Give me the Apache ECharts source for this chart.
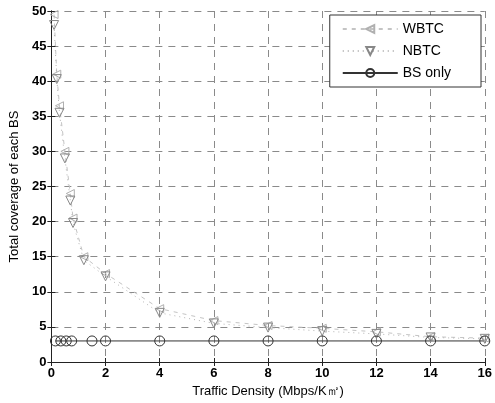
<!DOCTYPE html>
<html>
<head>
<meta charset="utf-8">
<script src="https://cdn.jsdelivr.net/npm/echarts@6/dist/echarts.min.js"></script>
<style>
  html, body { margin: 0; padding: 0; background: #fff; }
  #main { width: 495px; height: 403px; }
</style>
</head>
<body>
<div id="main"></div>
<script type="text/javascript">
    // traffic density points (Mbps/K m^2)
    var xCoverage = [0.1, 0.2, 0.3, 0.5, 0.7, 0.8, 1.2, 2, 4, 6, 8, 10, 12, 14, 16];
    var wbtc = [49.5, 41, 36.5, 30, 24, 20.5, 15, 12.6, 7.6, 5.9, 5.2, 4.8, 4.3, 3.6, 3.4];
    var nbtc = [48, 40.3, 35.5, 29, 23, 19.8, 14.5, 12.2, 7, 5.5, 4.9, 4.4, 4, 3.5, 3.3];
    var xBs = [0.15, 0.35, 0.55, 0.75, 1.5, 2, 4, 6, 8, 10, 12, 14, 16];
    var bsOnly = [3, 3, 3, 3, 3, 3, 3, 3, 3, 3, 3, 3, 3];

    function pairs(xs, ys) {
        var out = [];
        for (var i = 0; i < xs.length; i++) out.push([xs[i], ys[i]]);
        return out;
    }

    var myChart = echarts.init(document.getElementById('main'));
    var font = 'Liberation Sans';
    var gridLine = {show: true, lineStyle: {color: '#8a8a8a', type: [7, 6], width: 1}};

    myChart.setOption({
        backgroundColor: '#fff',
        animation: false,
        grid: {left: 47, right: 8, top: 11, bottom: 41},
        legend: {
            right: 14, top: 15,
            orient: 'vertical',
            itemWidth: 55, itemHeight: 10, itemGap: 8,
            padding: [7, 30, 7, 12],
            backgroundColor: '#fff',
            borderColor: '#333', borderWidth: 1,
            textStyle: {fontFamily: font, fontSize: 14, color: '#000'},
            data: ['WBTC', 'NBTC', 'BS only']
        },
        xAxis: [{
            type: 'value', min: 0, max: 16, interval: 2,
            name: 'Traffic Density (Mbps/K㎡)', nameLocation: 'middle', nameGap: 23,
            nameTextStyle: {fontFamily: font, fontSize: 13, color: '#000'},
            axisLine: {show: true, lineStyle: {color: '#222'}},
            axisTick: {inside: true, length: 4, lineStyle: {color: '#222'}},
            axisLabel: {fontFamily: font, fontSize: 13, fontWeight: 'bold', color: '#000', margin: 5},
            splitLine: gridLine
        }, {
            type: 'value', position: 'top', min: 0, max: 16, interval: 2,
            axisLine: {show: true, lineStyle: {color: '#222'}},
            axisTick: {inside: true, length: 4, lineStyle: {color: '#222'}},
            axisLabel: {show: false}, splitLine: {show: false}
        }],
        yAxis: [{
            type: 'value', min: 0, max: 50, interval: 5,
            name: 'Total coverage of each BS', nameLocation: 'middle', nameGap: 28,
            nameTextStyle: {fontFamily: font, fontSize: 13, color: '#000'},
            axisLine: {show: true, lineStyle: {color: '#222'}},
            axisTick: {inside: true, length: 4, lineStyle: {color: '#222'}},
            axisLabel: {fontFamily: font, fontSize: 13, fontWeight: 'bold', color: '#000', margin: 5},
            splitLine: gridLine
        }, {
            type: 'value', position: 'right', min: 0, max: 50, interval: 5,
            axisLine: {show: true, lineStyle: {color: '#222'}},
            axisTick: {inside: true, length: 4, lineStyle: {color: '#222'}},
            axisLabel: {show: false}, splitLine: {show: false}
        }],
        series: [{
            name: 'WBTC', type: 'line',
            data: pairs(xCoverage, wbtc),
            symbol: 'triangle', symbolRotate: 90, symbolSize: 8,
            color: '#bbb',
            lineStyle: {color: '#c4c4c4', type: [4, 5], width: 1},
            itemStyle: {color: 'transparent', borderColor: '#b0b0b0', borderWidth: 1}
        }, {
            name: 'NBTC', type: 'line',
            data: pairs(xCoverage, nbtc),
            symbol: 'triangle', symbolRotate: 180, symbolSize: 9,
            color: '#999',
            lineStyle: {color: '#b5b5b5', type: [1, 4], width: 1},
            itemStyle: {color: 'transparent', borderColor: '#888', borderWidth: 1}
        }, {
            name: 'BS only', type: 'line',
            data: pairs(xBs, bsOnly),
            symbol: 'circle', symbolSize: 10,
            color: '#333',
            lineStyle: {color: '#333', width: 1},
            itemStyle: {color: 'transparent', borderColor: '#333', borderWidth: 1}
        }]
    });
</script>
</body>
</html>
